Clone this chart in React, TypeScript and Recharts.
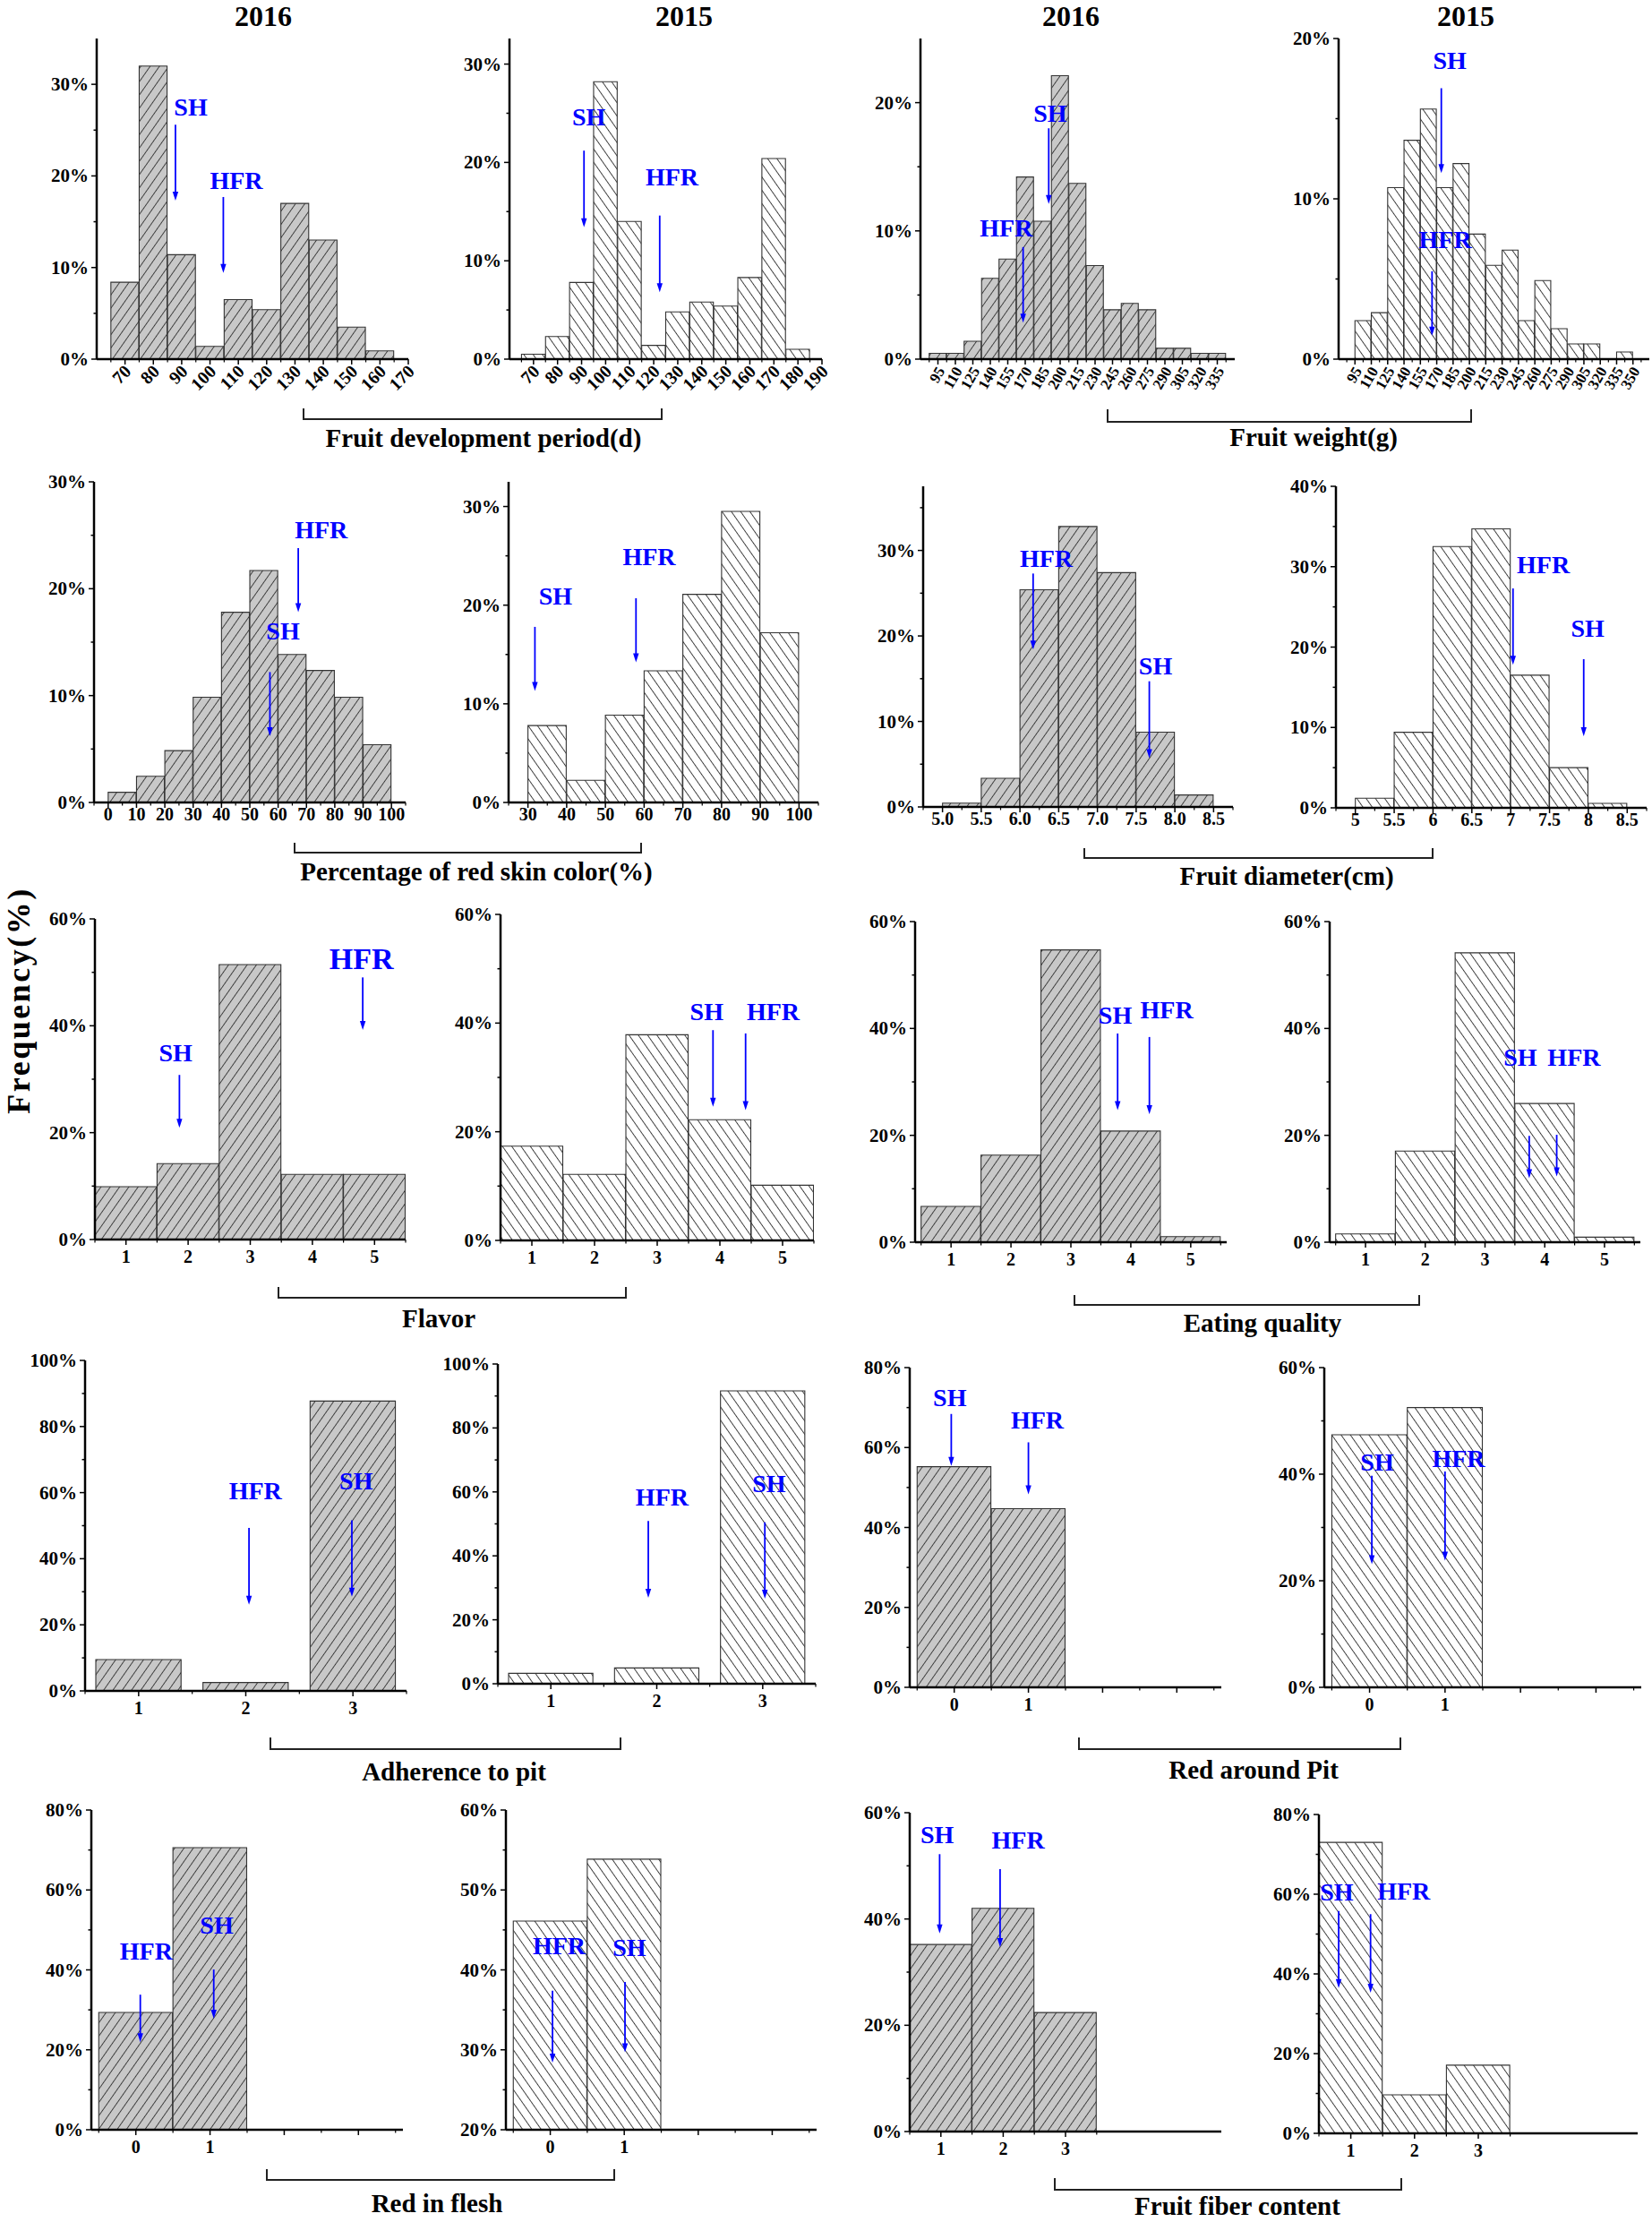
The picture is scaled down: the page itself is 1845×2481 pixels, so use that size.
import React from 'react';
import { BarChart, Bar, XAxis, YAxis, ReferenceLine, ReferenceDot } from 'recharts';

const FONT = '"Liberation Serif", "Times New Roman", Times, serif';
const BLUE = '#0000ff';

// ---------- data (frequency in %) ----------
const fdpBins2016 = [70, 80, 90, 100, 110, 120, 130, 140, 150, 160];
const fdpFreq2016 = [8.4, 32.0, 11.4, 1.4, 6.5, 5.4, 17.0, 13.0, 3.5, 0.9];
const fdpTicks2016 = [70, 80, 90, 100, 110, 120, 130, 140, 150, 160, 170];

const fdpBins2015 = [70, 80, 90, 100, 110, 120, 130, 140, 150, 160, 170, 180];
const fdpFreq2015 = [0.5, 2.3, 7.8, 28.2, 14.0, 1.4, 4.8, 5.8, 5.4, 8.3, 20.4, 1.0];
const fdpTicks2015 = [70, 80, 90, 100, 110, 120, 130, 140, 150, 160, 170, 180, 190];

const fwBins2016 = [95, 110, 125, 140, 155, 170, 185, 200, 215, 230, 245, 260, 275, 290, 305, 320, 335];
const fwFreq2016 = [0.45, 0.45, 1.4, 6.3, 7.8, 14.2, 10.75, 22.1, 13.7, 7.3, 3.85, 4.35, 3.85, 0.85, 0.85, 0.45, 0.45];
const fwTicks2016 = [95, 110, 125, 140, 155, 170, 185, 200, 215, 230, 245, 260, 275, 290, 305, 320, 335];

const fwBins2015 = [102.5, 117.5, 132.5, 147.5, 162.5, 177.5, 192.5, 207.5, 222.5, 237.5, 252.5, 267.5, 282.5, 297.5, 312.5, 327.5, 342.5];
const fwFreq2015 = [2.4, 2.9, 10.7, 13.65, 15.6, 10.7, 12.2, 7.8, 5.85, 6.8, 2.4, 4.9, 1.9, 0.95, 0.95, 0, 0.45];
const fwTicks2015 = [95, 110, 125, 140, 155, 170, 185, 200, 215, 230, 245, 260, 275, 290, 305, 320, 335, 350];

const skinBins2016 = [5, 15, 25, 35, 45, 55, 65, 75, 85, 95];
const skinFreq2016 = [0.95, 2.45, 4.85, 9.85, 17.8, 21.7, 13.85, 12.35, 9.85, 5.4];
const skinTicks2016 = [0, 10, 20, 30, 40, 50, 60, 70, 80, 90, 100];

const skinBins2015 = [35, 45, 55, 65, 75, 85, 95];
const skinFreq2015 = [7.8, 2.25, 8.85, 13.35, 21.1, 29.5, 17.2];
const skinTicks2015 = [30, 40, 50, 60, 70, 80, 90, 100];

const diaBins = [5.25, 5.75, 6.25, 6.75, 7.25, 7.75, 8.25];
const diaFreq2016 = [0.45, 3.35, 25.4, 32.8, 27.4, 8.75, 1.4];
const diaFreq2015 = [1.2, 9.4, 32.5, 34.7, 16.5, 5.0, 0.55];
const diaTicks = [5, 5.5, 6, 6.5, 7, 7.5, 8, 8.5];

const grade5 = [1, 2, 3, 4, 5];
const flavorFreq2016 = [9.9, 14.2, 51.45, 12.2, 12.2];
const flavorFreq2015 = [17.35, 12.15, 37.85, 22.2, 10.15];
const eatingFreq2016 = [6.7, 16.3, 54.7, 20.8, 1.05];
const eatingFreq2015 = [1.55, 17.05, 54.15, 25.95, 0.95];

const grade3 = [1, 2, 3];
const adherenceFreq2016 = [9.5, 2.55, 87.7];
const adherenceFreq2015 = [3.25, 4.95, 91.6];
const fiberFreq2016 = [35.2, 42.0, 22.4];
const fiberFreq2015 = [73.0, 9.65, 17.1];

const binary = [0, 1];
const binaryTicks = [0, 1, 2, 3];
const pitFreq2016 = [55.2, 44.7];
const pitFreq2015 = [47.4, 52.5];
const fleshFreq2016 = [29.35, 70.6];
const fleshFreq2015 = [46.1, 53.85];

// ---------- SH / HFR markers (data coordinates) ----------
type Note = { label: string; tx: number; ty: number; ax: number; y1: number; y2: number; size?: number };

const fdpNotes2016: Note[] = [
  { label: 'SH', tx: 93.2, ty: 27.5, ax: 87.8, y1: 25.6, y2: 17.3 },
  { label: 'HFR', tx: 109.3, ty: 19.5, ax: 104.7, y1: 17.7, y2: 9.4 },
];
const fdpNotes2015: Note[] = [
  { label: 'SH', tx: 93.0, ty: 24.6, ax: 91.0, y1: 21.2, y2: 13.4 },
  { label: 'HFR', tx: 127.6, ty: 18.5, ax: 122.5, y1: 14.6, y2: 6.8 },
];
const fwNotes2016: Note[] = [
  { label: 'SH', tx: 191.5, ty: 19.2, ax: 190.2, y1: 18.0, y2: 12.1 },
  { label: 'HFR', tx: 153.7, ty: 10.25, ax: 168.2, y1: 8.74, y2: 2.85 },
];
const fwNotes2015: Note[] = [
  { label: 'SH', tx: 181.9, ty: 18.65, ax: 174.2, y1: 16.9, y2: 11.6 },
  { label: 'HFR', tx: 177.8, ty: 7.44, ax: 165.7, y1: 5.48, y2: 1.46 },
];
const skinNotes2016: Note[] = [
  { label: 'HFR', tx: 75.2, ty: 25.5, ax: 67.1, y1: 23.8, y2: 17.8 },
  { label: 'SH', tx: 61.7, ty: 16.05, ax: 57.1, y1: 12.2, y2: 6.2 },
];
const skinNotes2015: Note[] = [
  { label: 'SH', tx: 37.1, ty: 20.97, ax: 31.8, y1: 17.8, y2: 11.3 },
  { label: 'HFR', tx: 61.3, ty: 24.9, ax: 57.9, y1: 20.7, y2: 14.2 },
];
const diaNotes2016: Note[] = [
  { label: 'HFR', tx: 6.34, ty: 29.1, ax: 6.17, y1: 27.3, y2: 18.4 },
  { label: 'SH', tx: 7.75, ty: 16.5, ax: 7.67, y1: 14.7, y2: 5.7 },
];
const diaNotes2015: Note[] = [
  { label: 'HFR', tx: 7.42, ty: 30.3, ax: 7.03, y1: 27.3, y2: 17.8 },
  { label: 'SH', tx: 7.99, ty: 22.3, ax: 7.94, y1: 18.5, y2: 8.9 },
];
const flavorNotes2016: Note[] = [
  { label: 'SH', tx: 1.8, ty: 35.0, ax: 1.86, y1: 30.8, y2: 20.9 },
  { label: 'HFR', tx: 4.79, ty: 52.6, ax: 4.81, y1: 49.05, y2: 39.2, size: 34 },
];
const flavorNotes2015: Note[] = [
  { label: 'SH', tx: 3.79, ty: 42.1, ax: 3.89, y1: 38.7, y2: 24.6 },
  { label: 'HFR', tx: 4.85, ty: 42.1, ax: 4.41, y1: 38.1, y2: 24.0 },
];
const eatingNotes2016: Note[] = [
  { label: 'SH', tx: 3.74, ty: 42.5, ax: 3.78, y1: 39.06, y2: 24.7 },
  { label: 'HFR', tx: 4.6, ty: 43.5, ax: 4.31, y1: 38.4, y2: 23.95 },
];
const eatingNotes2015: Note[] = [
  { label: 'SH', tx: 3.59, ty: 34.6, ax: 3.74, y1: 19.9, y2: 12.0 },
  { label: 'HFR', tx: 4.49, ty: 34.6, ax: 4.2, y1: 20.1, y2: 12.3 },
];
const adherenceNotes2016: Note[] = [
  { label: 'HFR', tx: 2.09, ty: 60.45, ax: 2.03, y1: 49.3, y2: 26.1 },
  { label: 'SH', tx: 3.03, ty: 63.6, ax: 2.99, y1: 51.6, y2: 28.5 },
];
const adherenceNotes2015: Note[] = [
  { label: 'HFR', tx: 2.05, ty: 58.4, ax: 1.92, y1: 50.9, y2: 26.9 },
  { label: 'SH', tx: 3.06, ty: 62.6, ax: 3.02, y1: 50.5, y2: 26.6 },
];
const pitNotes2016: Note[] = [
  { label: 'SH', tx: -0.06, ty: 72.4, ax: -0.04, y1: 68.4, y2: 55.4 },
  { label: 'HFR', tx: 1.12, ty: 66.8, ax: 1.0, y1: 61.3, y2: 48.3 },
];
const pitNotes2015: Note[] = [
  { label: 'SH', tx: 0.1, ty: 42.2, ax: 0.03, y1: 39.7, y2: 23.1 },
  { label: 'HFR', tx: 1.18, ty: 42.9, ax: 1.0, y1: 40.5, y2: 23.8 },
];
const fleshNotes2016: Note[] = [
  { label: 'HFR', tx: 0.14, ty: 44.8, ax: 0.06, y1: 33.8, y2: 21.9 },
  { label: 'SH', tx: 1.09, ty: 51.2, ax: 1.05, y1: 40.1, y2: 27.8 },
];
const fleshNotes2015: Note[] = [
  { label: 'HFR', tx: 0.12, ty: 43.0, ax: 0.03, y1: 37.4, y2: 28.4 },
  { label: 'SH', tx: 1.07, ty: 42.8, ax: 1.01, y1: 38.5, y2: 29.7 },
];
const fiberNotes2016: Note[] = [
  { label: 'SH', tx: 0.94, ty: 55.8, ax: 0.98, y1: 52.2, y2: 37.3 },
  { label: 'HFR', tx: 2.24, ty: 54.8, ax: 1.95, y1: 49.4, y2: 34.7 },
];
const fiberNotes2015: Note[] = [
  { label: 'SH', tx: 0.78, ty: 60.55, ax: 0.81, y1: 55.8, y2: 36.45 },
  { label: 'HFR', tx: 1.83, ty: 60.8, ax: 1.31, y1: 55, y2: 35.3 },
];

// ---------- panel specs ----------
type Spec = {
  year: 2016 | 2015;
  bins: number[];
  freq: number[];
  binW: number;
  xDomain: [number, number];
  xTicks: number[];
  xLabels: number[];
  xFmt?: (v: number) => string;
  rotate?: number;
  xFont?: number;
  labelGap?: number;
  tickCount?: number;
  yDomain: [number, number];
  yMajor: number[];
  notes: Note[];
};

const y60 = [0, 20, 40, 60];
const y80 = [0, 20, 40, 60, 80];

const panels: Spec[] = [
  { year: 2016, bins: fdpBins2016, freq: fdpFreq2016, binW: 10, xDomain: [60, 170], xTicks: fdpTicks2016, xLabels: fdpTicks2016, rotate: -45, yDomain: [0, 35], yMajor: [0, 10, 20, 30], notes: fdpNotes2016 },
  { year: 2015, bins: fdpBins2015, freq: fdpFreq2015, binW: 10, xDomain: [60, 190], xTicks: fdpTicks2015, xLabels: fdpTicks2015, rotate: -45, yDomain: [0, 32.6], yMajor: [0, 10, 20, 30], notes: fdpNotes2015 },
  { year: 2016, bins: fwBins2016, freq: fwFreq2016, binW: 15, xDomain: [80, 350], xTicks: fwTicks2016, xLabels: fwTicks2016, rotate: -60, xFont: 17, yDomain: [0, 25], yMajor: [0, 10, 20], notes: fwNotes2016 },
  { year: 2015, bins: fwBins2015, freq: fwFreq2015, binW: 15, xDomain: [80, 365], xTicks: fwTicks2015, xLabels: fwTicks2015, rotate: -60, xFont: 17, yDomain: [0, 20], yMajor: [0, 10, 20], notes: fwNotes2015 },

  { year: 2016, bins: skinBins2016, freq: skinFreq2016, binW: 10, xDomain: [-5, 105], xTicks: skinTicks2016, xLabels: skinTicks2016, yDomain: [0, 30], yMajor: [0, 10, 20, 30], notes: skinNotes2016 },
  { year: 2015, bins: skinBins2015, freq: skinFreq2015, binW: 10, xDomain: [25, 105], xTicks: skinTicks2015, xLabels: skinTicks2015, yDomain: [0, 32.5], yMajor: [0, 10, 20, 30], notes: skinNotes2015 },
  { year: 2016, bins: diaBins, freq: diaFreq2016, binW: 0.5, xDomain: [4.75, 8.75], xTicks: diaTicks, xLabels: diaTicks, xFmt: (v) => v.toFixed(1), yDomain: [0, 37.5], yMajor: [0, 10, 20, 30], notes: diaNotes2016 },
  { year: 2015, bins: diaBins, freq: diaFreq2015, binW: 0.5, xDomain: [4.75, 8.75], xTicks: diaTicks, xLabels: diaTicks, yDomain: [0, 40], yMajor: [0, 10, 20, 30, 40], notes: diaNotes2015 },

  { year: 2016, bins: grade5, freq: flavorFreq2016, binW: 1, xDomain: [0.5, 5.5], xTicks: grade5, xLabels: grade5, labelGap: 12, yDomain: [0, 60], yMajor: y60, notes: flavorNotes2016 },
  { year: 2015, bins: grade5, freq: flavorFreq2015, binW: 1, xDomain: [0.5, 5.5], xTicks: grade5, xLabels: grade5, labelGap: 12, yDomain: [0, 60], yMajor: y60, notes: flavorNotes2015 },
  { year: 2016, bins: grade5, freq: eatingFreq2016, binW: 1, xDomain: [0.4, 5.6], xTicks: grade5, xLabels: grade5, labelGap: 12, yDomain: [0, 60], yMajor: y60, notes: eatingNotes2016 },
  { year: 2015, bins: grade5, freq: eatingFreq2015, binW: 1, xDomain: [0.4, 5.6], xTicks: grade5, xLabels: grade5, labelGap: 12, yDomain: [0, 60], yMajor: y60, notes: eatingNotes2015 },

  { year: 2016, bins: grade3, freq: adherenceFreq2016, binW: 0.8, xDomain: [0.5, 3.5], xTicks: grade3, xLabels: grade3, labelGap: 12, tickCount: 3, yDomain: [0, 100], yMajor: [0, 20, 40, 60, 80, 100], notes: adherenceNotes2016 },
  { year: 2015, bins: grade3, freq: adherenceFreq2015, binW: 0.8, xDomain: [0.5, 3.5], xTicks: grade3, xLabels: grade3, labelGap: 12, tickCount: 3, yDomain: [0, 100], yMajor: [0, 20, 40, 60, 80, 100], notes: adherenceNotes2015 },
  { year: 2016, bins: binary, freq: pitFreq2016, binW: 1, xDomain: [-0.6, 3.6], xTicks: binaryTicks, xLabels: binary, labelGap: 12, yDomain: [0, 80], yMajor: y80, notes: pitNotes2016 },
  { year: 2015, bins: binary, freq: pitFreq2015, binW: 1, xDomain: [-0.6, 3.6], xTicks: binaryTicks, xLabels: binary, labelGap: 12, yDomain: [0, 60], yMajor: y60, notes: pitNotes2015 },

  { year: 2016, bins: binary, freq: fleshFreq2016, binW: 1, xDomain: [-0.6, 3.6], xTicks: binaryTicks, xLabels: binary, labelGap: 12, yDomain: [0, 80], yMajor: y80, notes: fleshNotes2016 },
  { year: 2015, bins: binary, freq: fleshFreq2015, binW: 1, xDomain: [-0.6, 3.6], xTicks: binaryTicks, xLabels: binary, labelGap: 12, yDomain: [20, 60], yMajor: [20, 30, 40, 50, 60], notes: fleshNotes2015 },
  { year: 2016, bins: grade3, freq: fiberFreq2016, binW: 1, xDomain: [0.5, 5.5], xTicks: grade3, xLabels: grade3, labelGap: 12, yDomain: [0, 60], yMajor: y60, notes: fiberNotes2016 },
  { year: 2015, bins: grade3, freq: fiberFreq2015, binW: 1, xDomain: [0.5, 5.5], xTicks: grade3, xLabels: grade3, labelGap: 12, yDomain: [0, 80], yMajor: y80, notes: fiberNotes2015 },
];

// plot boxes [left, top, right, bottom] in page pixels
const boxes = [
  [108, 43, 456, 401], [569, 43, 918, 401], [1028, 43, 1379, 401], [1495, 43, 1842, 401],
  [105, 538, 453, 896], [568, 538, 914, 896], [1031, 543, 1377, 901], [1492, 543, 1839, 902],
  [106, 1026, 453, 1384], [559, 1021, 909, 1385], [1022, 1029, 1370, 1387], [1485, 1029, 1832, 1387],
  [95, 1519, 454, 1888], [556, 1523, 911, 1880], [1016, 1527, 1364, 1884], [1479, 1527, 1833, 1884],
  [102, 2021, 450, 2378], [565, 2021, 912, 2378], [1016, 2024, 1364, 2380], [1473, 2026, 1829, 2382],
];

const years = [
  { text: '2016', x: 294 }, { text: '2015', x: 764 },
  { text: '2016', x: 1196 }, { text: '2015', x: 1637 },
];

const sections = [
  { title: 'Fruit development period(d)', x1: 339, x2: 739, yTop: 456, yBot: 468, cx: 540, base: 499 },
  { title: 'Fruit weight(g)', x1: 1237, x2: 1643, yTop: 457, yBot: 471, cx: 1467, base: 498 },
  { title: 'Percentage of red skin color(%)', x1: 329, x2: 716, yTop: 941, yBot: 952, cx: 532, base: 983 },
  { title: 'Fruit diameter(cm)', x1: 1211, x2: 1600, yTop: 947, yBot: 958, cx: 1437, base: 988 },
  { title: 'Flavor', x1: 311, x2: 699, yTop: 1437, yBot: 1449, cx: 490, base: 1482 },
  { title: 'Eating quality', x1: 1200, x2: 1585, yTop: 1446, yBot: 1457, cx: 1410, base: 1487 },
  { title: 'Adherence to pit', x1: 302, x2: 693, yTop: 1940, yBot: 1953, cx: 507, base: 1988 },
  { title: 'Red around Pit', x1: 1205, x2: 1564, yTop: 1940, yBot: 1953, cx: 1400, base: 1986 },
  { title: 'Red in flesh', x1: 298, x2: 686, yTop: 2422, yBot: 2434, cx: 488, base: 2470 },
  { title: 'Fruit fiber content', x1: 1178, x2: 1565, yTop: 2432, yBot: 2445, cx: 1382, base: 2473 },
];

const PAD_L = 80;
const PAD_R = 14;
const PAD_T = 14;
const PAD_B = 80;

const arrowShape = (p: any) => {
  const { x1, y1, x2, y2 } = p;
  return (
    <g>
      <line x1={x1} y1={y1} x2={x2} y2={y2 - 6} stroke={BLUE} strokeWidth={1.8} />
      <polygon points={`${x2 - 3.2},${y2 - 10} ${x2 + 3.2},${y2 - 10} ${x2},${y2}`} fill={BLUE} />
    </g>
  );
};

function renderXTick(props: any, spec: Spec, plotW: number) {
  const { x, y, payload, index } = props;
  const v: number = payload.value;
  const ppu = plotW / (spec.xDomain[1] - spec.xDomain[0]);
  const half = ((spec.xTicks[1] - spec.xTicks[0]) / 2) * ppu;
  const left = PAD_L - 0.6;
  const right = PAD_L + plotW + 0.6;
  const minors: number[] = [];
  if (x - half >= left) minors.push(x - half);
  if (index === spec.xTicks.length - 1 && x + half <= right) minors.push(x + half);
  const hasLabel = spec.xLabels.includes(v);
  const label = spec.xFmt ? spec.xFmt(v) : String(v);
  const fs = spec.xFont || 20;
  const gap = spec.labelGap || 6;
  let text = null;
  if (hasLabel) {
    if (spec.rotate) {
      const ax = x + 3;
      const ay = y + 10;
      text = (
        <text x={ax} y={ay} dy="0.35em" textAnchor="end" transform={`rotate(${spec.rotate} ${ax} ${ay})`}
          fontFamily={FONT} fontWeight="bold" fontSize={fs} fill="#000">{label}</text>
      );
    } else {
      text = (
        <text x={x} y={y + gap} dominantBaseline="hanging" textAnchor="middle"
          fontFamily={FONT} fontWeight="bold" fontSize={fs} fill="#000">{label}</text>
      );
    }
  }
  return (
    <g>
      <line x1={x} y1={y} x2={x} y2={y + 6} stroke="#000" strokeWidth={1.5} />
      {minors.map((mx, k) => (
        <line key={k} x1={mx} y1={y} x2={mx} y2={y + 3.5} stroke="#000" strokeWidth={1.2} />
      ))}
      {text}
    </g>
  );
}

function renderYTick(props: any, spec: Spec) {
  const { x, y, payload } = props;
  const v: number = payload.value;
  const major = spec.yMajor.includes(v);
  return (
    <g>
      <line x1={x} y1={y} x2={x - (major ? 6 : 3.5)} y2={y} stroke="#000" strokeWidth={1.5} />
      {major && (
        <text x={x - 9} y={y} textAnchor="end" dominantBaseline="central"
          fontFamily={FONT} fontWeight="bold" fontSize={21} fill="#000">{`${v}%`}</text>
      )}
    </g>
  );
}

function HistPanel({ spec, box }: { spec: Spec; box: number[] }) {
  const [L, T, R, B] = box;
  const plotW = R - L;
  const plotH = B - T;
  const width = plotW + PAD_L + PAD_R;
  const height = plotH + PAD_T + PAD_B;
  const data = spec.bins.map((b, i) => ({ x: b, y: spec.freq[i] }));
  const ppu = plotW / (spec.xDomain[1] - spec.xDomain[0]);
  const barPx = spec.binW * ppu - 0.5;

  const yStep = spec.yMajor[1] - spec.yMajor[0];
  const yTicks = [...spec.yMajor];
  spec.yMajor.forEach((m) => {
    const h = m + yStep / 2;
    if (h < spec.yDomain[1] - 1e-6) yTicks.push(h);
  });
  yTicks.sort((a, b) => a - b);

  const axisLine = { stroke: '#000', strokeWidth: 2.5 };
  const frameLine = { stroke: '#111', strokeWidth: 2 };
  const fill = spec.year === 2016 ? 'url(#hatchGray)' : 'url(#hatchWhite)';

  return (
    <div style={{ position: 'absolute', left: L - PAD_L, top: T - PAD_T, width, height }}>
      <BarChart width={width} height={height} data={data}
        margin={{ top: PAD_T, right: PAD_R, bottom: 0, left: 0 }}>
        <XAxis dataKey="x" type="number" domain={spec.xDomain} allowDataOverflow ticks={spec.xTicks}
          interval={0} height={PAD_B} tickSize={0} tickMargin={0} tickLine={false}
          tickCount={spec.tickCount || 5}
          tick={(p: any) => renderXTick(p, spec, plotW)} axisLine={axisLine} />
        <XAxis xAxisId="top" orientation="top" type="number" domain={spec.xDomain} allowDataOverflow
          height={0} tick={false} tickLine={false} axisLine={frameLine} />
        <YAxis type="number" domain={spec.yDomain} allowDataOverflow ticks={yTicks} interval={0}
          width={PAD_L} tickSize={0} tickMargin={0} tickLine={false}
          tick={(p: any) => renderYTick(p, spec)} axisLine={axisLine} />
        <YAxis yAxisId="right" orientation="right" type="number" domain={spec.yDomain} allowDataOverflow
          width={0} tick={false} tickLine={false} axisLine={frameLine} />
        <Bar dataKey="y" barSize={barPx} fill={fill} stroke="#333" strokeWidth={1.1}
          isAnimationActive={false} />
        {spec.notes.map((n, k) => (
          <ReferenceLine key={`a${k}`} segment={[{ x: n.ax, y: n.y1 }, { x: n.ax, y: n.y2 }]}
            ifOverflow="visible" shape={arrowShape} />
        ))}
        {spec.notes.map((n, k) => (
          <ReferenceDot key={`t${k}`} x={n.tx} y={n.ty} r={0} ifOverflow="visible"
            shape={(p: any) => (
              <text x={p.cx} y={p.cy} textAnchor="middle" dominantBaseline="central"
                fontFamily={FONT} fontWeight="bold" fontSize={n.size || 28} fill={BLUE}>{n.label}</text>
            )} />
        ))}
      </BarChart>
    </div>
  );
}

export default function App() {
  return (
    <div style={{ position: 'absolute', left: 0, top: 0, width: 1845, height: 2481, background: '#fff', overflow: 'hidden' }}>
      <svg width={0} height={0} style={{ position: 'absolute' }}>
        <defs>
          <pattern id="hatchGray" patternUnits="userSpaceOnUse" width={8.5} height={8.5} patternTransform="rotate(35)">
            <rect x={0} y={0} width={8.5} height={8.5} fill="#c8c8c8" />
            <line x1={4.25} y1={0} x2={4.25} y2={8.5} stroke="#3c3c3c" strokeWidth={1} />
          </pattern>
          <pattern id="hatchWhite" patternUnits="userSpaceOnUse" width={8.5} height={8.5} patternTransform="rotate(-35)">
            <rect x={0} y={0} width={8.5} height={8.5} fill="#ffffff" />
            <line x1={4.25} y1={0} x2={4.25} y2={8.5} stroke="#3c3c3c" strokeWidth={1} />
          </pattern>
        </defs>
      </svg>

      <svg width={1845} height={2481} style={{ position: 'absolute', left: 0, top: 0 }}>
        {years.map((t, i) => (
          <text key={i} x={t.x} y={29} textAnchor="middle" fontFamily={FONT} fontWeight="bold" fontSize={32} fill="#000">{t.text}</text>
        ))}
        {sections.map((s, i) => (
          <g key={i}>
            <polyline points={`${s.x1},${s.yTop} ${s.x1},${s.yBot} ${s.x2},${s.yBot} ${s.x2},${s.yTop}`}
              fill="none" stroke="#222" strokeWidth={2} />
            <text x={s.cx} y={s.base} textAnchor="middle" fontFamily={FONT} fontWeight="bold" fontSize={29} fill="#000">{s.title}</text>
          </g>
        ))}
        <text transform="translate(33,1117) rotate(-90)" textAnchor="middle" fontFamily={FONT} fontWeight="bold"
          fontSize={36} letterSpacing={2.5} fill="#000">Frequency(%)</text>
      </svg>

      {panels.map((spec, i) => (
        <HistPanel key={i} spec={spec} box={boxes[i]} />
      ))}
    </div>
  );
}
